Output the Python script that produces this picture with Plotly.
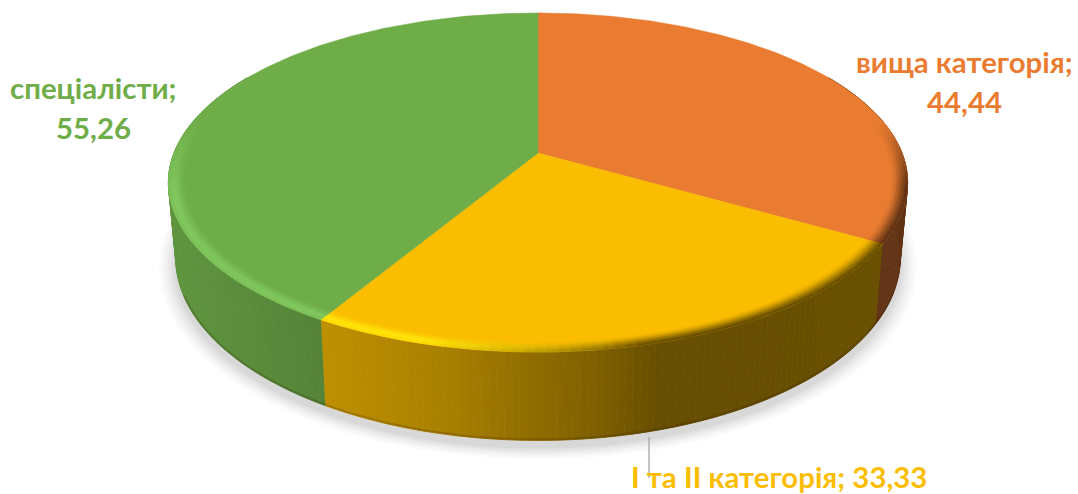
import numpy as np
import plotly.graph_objects as go

categories = ["вища категорія", "І та ІІ категорія", "спеціалісти"]
values = [44.44, 33.33, 55.26]
colors = [(234, 124, 49), (251, 189, 0), (111, 173, 73)]
highlights = [(234, 124, 49), (255, 228, 10), (128, 200, 94)]
FONT = "Lato"
FONT_SIZE = 29.4

# picture frame and the projection of the tilted disc
W, H = 1078, 494
CX, CY, BX, AY, K, DEPTH, TAPER = 538, 153, 364, 164.4, 0.174, 73, 0.98


def top(theta, r=1.0):
    u, v = r * np.sin(theta), -r * np.cos(theta)
    d = 1 - K * v
    return CX + BX * u / d, CY + AY * v / d


def bottom(theta, r=1.0):
    x, y = top(theta, r)
    v = -r * np.cos(theta)
    return CX + TAPER * (x - CX), y + DEPTH / (1 - K * v)


def wall_factor(x):
    return np.interp(x, [168, 320, 450, 600, 660, 908], [0.86, 0.76, 0.67, 0.5, 0.41, 0.42])


def rgb(c):
    return "rgb(%d,%d,%d)" % tuple(int(round(min(255, max(0, a)))) for a in c)


def mix(a, b, t):
    return tuple(p + (q - p) * t for p, q in zip(a, b))


def poly(xs, ys, color, lw=1.2):
    return go.Scatter(x=list(xs), y=list(ys), mode="lines", fill="toself", fillcolor=color,
                      line=dict(color=color, width=lw), hoverinfo="skip", showlegend=False)


total = sum(values)
edges = np.concatenate([[0], np.cumsum(values) / total * 2 * np.pi])
fig = go.Figure()

# soft shadow under the disc
all_t = np.linspace(0, 2 * np.pi, 181)
for scale, alpha in [(1.045, 0.018), (1.037, 0.025), (1.029, 0.03), (1.021, 0.035), (1.013, 0.04), (1.005, 0.05)]:
    x, y = bottom(all_t, scale)
    fig.add_trace(poly(x, y + 7, "rgba(60,60,60,%.3f)" % alpha, 0))

# side walls, one narrow strip at a time so the shading changes along the rim
for i, c in enumerate(colors):
    a0, a1 = edges[i], edges[i + 1]
    n = max(2, int((a1 - a0) / np.radians(1)))
    ts = np.linspace(a0, a1, n + 1)
    for t0, t1 in zip(ts[:-1], ts[1:]):
        if np.cos((t0 + t1) / 2) > 0.5:
            continue
        xt, yt = top(np.array([t0, t1]))
        xb, yb = bottom(np.array([t1, t0]))
        f = wall_factor((xt[0] + xt[1]) / 2)
        fig.add_trace(poly(np.r_[xt, xb], np.r_[yt, yb], rgb(tuple(p * f for p in c)), 1.0))
    # dark line along the foot of the wall
    arc = np.linspace(a0, a1, 80)
    front = np.cos(arc) < -0.35
    xb, yb = bottom(arc[front])
    fig.add_trace(go.Scatter(x=xb, y=yb - 1, mode="lines", hoverinfo="skip", showlegend=False,
                             line=dict(color="rgba(50,30,0,0.2)", width=2)))

# flat top of each slice
for i, c in enumerate(colors):
    arc = np.linspace(edges[i], edges[i + 1], 160)
    x, y = top(arc)
    fig.add_trace(poly(np.r_[CX, x, CX], np.r_[CY, y, CY], rgb(c), 0.5))

# rounded rim, from the inside of the disc outwards
radii = [0.958, 0.965, 0.972, 0.979, 0.986, 0.993, 1.0]
lit_steps = [0.15, 0.4, 0.7, 0.95, 1.0, 0.8]
dark_steps = [0.06, 0.2, 0.4, 0.62, 0.82, 1.0]
for i, (c, hi) in enumerate(zip(colors, highlights)):
    a0, a1 = edges[i], edges[i + 1]
    n = max(2, int((a1 - a0) / np.radians(1.5)))
    ts = np.linspace(a0, a1, n + 1)
    for t0, t1 in zip(ts[:-1], ts[1:]):
        mid = (t0 + t1) / 2
        v = -np.cos(mid)
        vis = np.clip((v + 0.2) / 0.4, 0, 1)
        if vis == 0:
            continue
        mx = top(mid)[0]
        hs = np.clip((640 - mx) / 220, 0, 1)
        wall = tuple(p * wall_factor(mx) for p in c)
        for b in range(len(lit_steps)):
            arc = np.array([t0, t1])
            x0, y0 = top(arc, radii[b])
            x1, y1 = top(arc[::-1], radii[b + 1])
            lit = mix(c, hi, lit_steps[b])
            dark = mix(c, wall, dark_steps[b])
            col = mix(c, mix(dark, lit, hs), vis)
            fig.add_trace(poly(np.r_[x0, x1], np.r_[y0, y1], rgb(col), 0.6))


# leader line for the lower label
fig.add_trace(go.Scatter(x=[649, 649], y=[437, 478], mode="lines", hoverinfo="skip", showlegend=False,
                         line=dict(color="#a6a6a6", width=1.3)))


def number(i):
    return f"{values[i]:.2f}".replace(".", ",")


label_lines = [
    (colors[0], 964, 61, f"{categories[0]};"),
    (colors[0], 964, 101, number(0)),
    (colors[2], 93, 87, f"{categories[2]};"),
    (colors[2], 93, 127, number(2)),
    (colors[1], 779, 476, f"{categories[1]}; {number(1)}"),
]
for col, x, y, text in label_lines:
    fig.add_annotation(x=x, y=y, text=f"<b>{text}</b>", showarrow=False, xanchor="center",
                       yanchor="middle", align="center",
                       font=dict(family=FONT, size=FONT_SIZE, color=rgb(col)))

fig.update_layout(width=W, height=H, margin=dict(l=0, r=0, t=0, b=0), paper_bgcolor="white",
                  plot_bgcolor="white", showlegend=False,
                  xaxis=dict(range=[0, W], visible=False, fixedrange=True),
                  yaxis=dict(range=[H, 0], visible=False, fixedrange=True))
fig.write_html("out.html", config={"displayModeBar": False},
               post_script="document.body.style.margin='0';document.body.style.overflow='hidden';")
